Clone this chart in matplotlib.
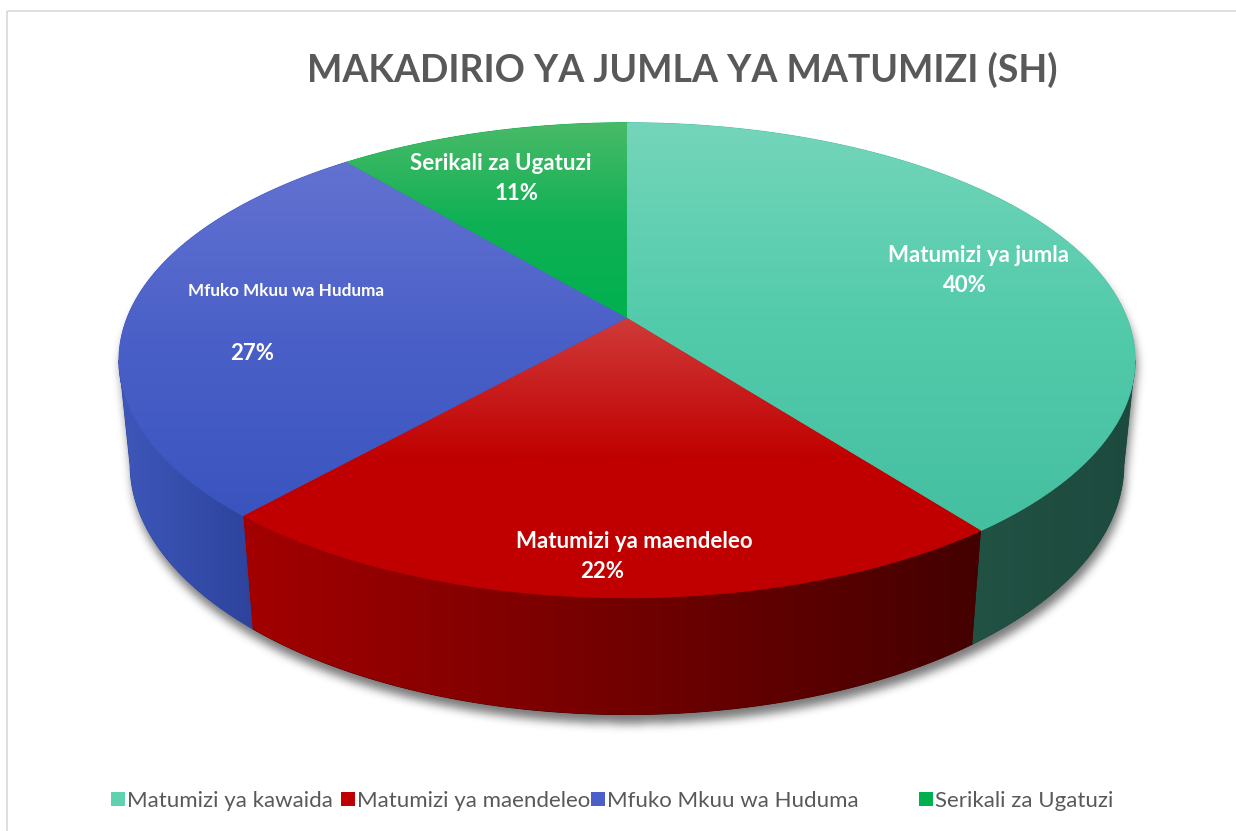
import numpy as np
import matplotlib
matplotlib.use("Agg")
import matplotlib.pyplot as plt
from matplotlib.patches import Polygon, Rectangle
from matplotlib.path import Path
from matplotlib.colors import LinearSegmentedColormap, to_rgb

# data
title = "MAKADIRIO YA JUMLA YA MATUMIZI (SH)"
legend_names = ["Matumizi ya kawaida", "Matumizi ya maendeleo", "Mfuko Mkuu wa Huduma", "Serikali za Ugatuzi"]
slice_names = ["Matumizi ya jumla", "Matumizi ya maendeleo", "Mfuko Mkuu wa Huduma", "Serikali za Ugatuzi"]
shares = [39.6, 22.0, 27.4, 11.0]

# styles
top_colors = [["#74d5ba", "#52cbab", "#44bf9f"],
              ["#d03a3a", "#c00000", "#c00000"],
              ["#6372d1", "#4a60c8", "#3a54bf"],
              ["#4aba68", "#10b155", "#00b04e"]]
side_colors = [["#215244", "#1d4a3e"],
               ["#a30000", "#440000"],
               ["#3e57ba", "#2d439c"],
               ["#008a3c", "#006a2e"]]
legend_colors = ["#5fd0b0", "#c00000", "#4a60c8", "#00b050"]
text_grey = "#595959"

W, HPX = 1236, 831
fig = plt.figure(figsize=(W / 100, HPX / 100), dpi=100)
ax = fig.add_axes([0, 0, 1, 1])

# perspective disc
cx, cy, scale = 627, 318, 500
sa, ca, kp, thick = 0.46, 0.888, 0.2, 0.236


def project(theta_deg, h):
    t = np.radians(theta_deg)
    u, v = np.cos(t), np.sin(t)
    w = 1 + kp * (v * ca - h * sa)
    return cx + scale * u / w, cy - scale * (v * sa + h * ca) / w


def arc(a0, a1, h, n=300):
    x, y = project(np.linspace(a0, a1, n), h)
    return np.column_stack([x, y])


def gradient_fill(pts, colors, vertical=True, z=2):
    x0, x1 = pts[:, 0].min(), pts[:, 0].max()
    y0, y1 = pts[:, 1].min(), pts[:, 1].max()
    cmap = LinearSegmentedColormap.from_list("g", colors)
    g = np.linspace(0, 1, 256)
    g = g.reshape(-1, 1) if vertical else g.reshape(1, -1)
    base = Polygon(pts, closed=True, facecolor=colors[-1], edgecolor=colors[-1], lw=0.6, zorder=z - 0.1)
    ax.add_patch(base)
    im = ax.imshow(g, cmap=cmap, extent=(x0, x1, y1, y0), origin="upper",
                   aspect="auto", interpolation="bilinear", zorder=z)
    im.set_clip_path(Polygon(pts, closed=True, transform=ax.transData))


def box_blur(a, r):
    for axis in (0, 1):
        for _ in range(3):
            b = np.moveaxis(a, axis, -1)
            p = np.pad(b, [(0, 0), (r + 1, r)], mode="edge")
            c = np.cumsum(p, axis=-1)
            b = (c[:, 2 * r + 1:] - c[:, :-2 * r - 1]) / (2 * r + 1)
            a = np.moveaxis(b, -1, axis)
    return a


left_sil, right_sil = -169.7, -10.3

# shadow under the pie
sil = np.vstack([arc(right_sil, 360 + left_sil, 0), arc(360 + left_sil, 360 + right_sil, -thick)])
yy, xx = np.mgrid[0:HPX, 0:W]
mask = Path(sil + np.array([2, 9])).contains_points(
    np.column_stack([xx.ravel() + 0.5, yy.ravel() + 0.5])).reshape(HPX, W).astype(float)
mask = box_blur(mask, 4)
shadow = np.zeros((HPX, W, 4))
shadow[..., :3] = to_rgb("#333333")
shadow[..., 3] = mask * 0.65
ax.imshow(shadow, extent=(0, W, HPX, 0), origin="upper", aspect="auto", zorder=1)

# slice angle ranges (clockwise from 12 o'clock)
cum = np.concatenate([[0], np.cumsum(shares)]) / sum(shares)
starts = 90 - 360 * cum[:-1]
ends = 90 - 360 * cum[1:]

# side walls
for i in range(len(shares)):
    for off in (0, -360):
        a0 = min(starts[i] + off, right_sil)
        a1 = max(ends[i] + off, left_sil)
        if a0 > a1:
            pts = np.vstack([arc(a0, a1, 0), arc(a1, a0, -thick)])
            gradient_fill(pts, side_colors[i], vertical=False, z=3)

# top faces
for i in range(len(shares)):
    pts = np.vstack([[cx, cy], arc(starts[i], ends[i], 0)])
    gradient_fill(pts, top_colors[i], vertical=True, z=5)

# data labels
pct = [f"{round(s)}%" for s in shares]
lab = dict(color="white", fontweight="bold", family=["Lato", "DejaVu Sans"], ha="center", va="center", zorder=10)
ax.text(978, 255, slice_names[0], fontsize=16, **lab)
ax.text(965, 286, pct[0], fontsize=16, **lab)
ax.text(634, 542, slice_names[1], fontsize=16, **lab)
ax.text(602, 571, pct[1], fontsize=16, **lab)
ax.text(286, 291, slice_names[2], fontsize=12.3, **lab)
ax.text(252, 353, pct[2], fontsize=16, **lab)
ax.text(501, 163, slice_names[3], fontsize=16, **lab)
ax.text(517, 193, pct[3], fontsize=16, **lab)

# title
ax.text(682, 70, title, fontsize=27, fontweight="bold", color=text_grey,
        family=["Lato", "DejaVu Sans"], ha="center", va="center", zorder=10)

# legend
leg_x = [111, 341, 591, 919]
for x, name, col in zip(leg_x, legend_names, legend_colors):
    ax.add_patch(Rectangle((x, 792), 14, 14, facecolor=col, edgecolor="none", zorder=10))
    ax.text(x + 16, 801, name, fontsize=16, color=text_grey, family=["Lato", "DejaVu Sans"],
            ha="left", va="center", zorder=10)

# chart border
ax.add_patch(Rectangle((7, 11), 1300, 900, fill=False, edgecolor="#d9d9d9", lw=1.2, zorder=0))

ax.set_xlim(0, W)
ax.set_ylim(HPX, 0)
ax.axis("off")
fig.savefig("out.png", dpi=100)
